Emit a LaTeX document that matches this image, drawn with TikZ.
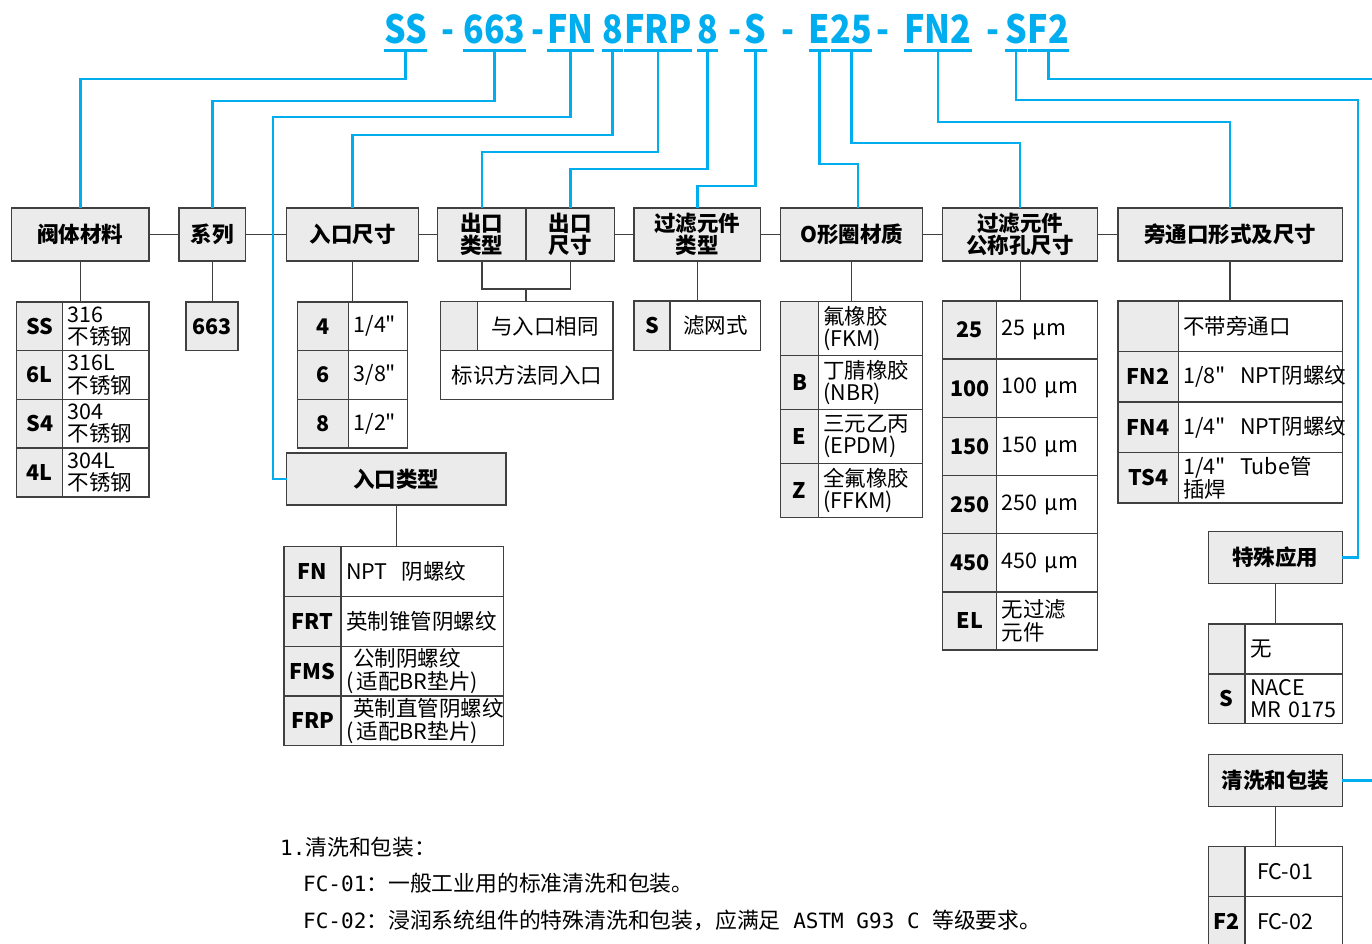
\documentclass[tikz,border=0pt]{standalone}
\usepackage{fontspec}
\setmainfont{Noto Sans CJK SC}[Ligatures=TeXOff]
\newfontfamily\codigo{Noto Sans CJK SC}[FakeStretch=0.87]
\newfontfamily\mono{DejaVu Sans Mono}[Ligatures=TeXOff]
\definecolor{azul}{RGB}{0,174,239}
\definecolor{borde}{RGB}{64,64,64}
\definecolor{gris}{RGB}{235,235,235}

%Tabla: nombre, columnas, arriba, alto fila, alineacion, filas
\newcommand{\tabla}[8]{%
  \pgfmathsetmacro{\anc}{#3-#2}%
  \pgfmathsetmacro{\anb}{#4-#3-10}%
  \foreach \ca/\de [count=\fila] in {#8}{%
    \node[celda,fill=gris,font=\bfseries\fontsize{21.5}{22}\selectfont,minimum width=\anc pt,minimum height=#6pt] (#1c\fila) at (#2,{#5+(\fila-1)*#6}) {\ca};
    \node[celda,fill=white,align=#7,text width=\anb pt,minimum height=#6pt] (#1d\fila) at (#3,{#5+(\fila-1)*#6}) {\de};
  }%
}
\newcommand{\lat}[1]{{\mono\fontsize{21}{22}\selectfont #1}}

\begin{document}
\begin{tikzpicture}[x=1pt,y=-1pt,
    cab/.style={draw=borde,fill=gris,line width=1.4pt,inner sep=0pt,outer sep=0pt,minimum height=53pt,align=center,font=\bfseries\fontsize{21.5}{22}\selectfont},
    celda/.style={draw=borde,line width=1.4pt,outer sep=0pt,anchor=north west,inner xsep=5pt,inner ysep=0pt,font=\fontsize{21.5}{22.5}\selectfont},
    cod/.style={text=azul,font=\codigo\bfseries\fontsize{39}{40}\selectfont,inner sep=0pt,text depth=7pt,anchor=base},
    nota/.style={anchor=west,inner sep=0pt,font=\fontsize{21.8}{24}\selectfont},
    raya/.style={draw=azul,line width=3pt},
    guia/.style={draw=azul,line width=2.4pt},
    linea/.style={draw=borde,line width=1.4pt}]

    \path[use as bounding box,fill=white] (0,0) rectangle (1372,943);

    %Codigo
    \foreach \nom/\px/\tx in {cSS/405.5/SS,c663/494.5/663,cFN/570.5/FN,c8a/612.5/8,cFRP/658/FRP,c8b/707.5/8,cS/755.5/S,cE/819.5/E,c25/851.5/25,cFN2/938/FN2,cS2/1016/S,cF2/1048.5/F2}{
        \node[cod] (\nom) at (\px,43) {\tx};
        \draw[raya] (\nom.south west)--(\nom.south east);
    }
    \foreach \px [count=\k] in {447.5,538,734.5,787.5,883,992.5}
        \node[cod] (g\k) at (\px,43) {-};

    %Cabeceras
    \foreach \nom/\px/\an/\tx in {mat/80.35/137.5/阀体材料,ser/212.3/66.7/系列,ent/352.5/131.6/入口尺寸,outA/481.85/88.3/{出口\\类型},outB/570.35/88.7/{出口\\尺寸},fil/697.35/126.7/{过滤元件\\类型},ori/851.7/142/O形圈材质,por/1020.2/155/{过滤元件\\公称孔尺寸},byp/1230.15/224.3/旁通口形式及尺寸}
        \node[cab,minimum width=\an pt] (\nom) at (\px,234.5) {\tx};
    \node[cab,minimum width=219.3pt,minimum height=52pt] (typ) at (396.35,479) {入口类型};
    \node[cab,minimum width=134pt,minimum height=51.6pt] (esp) at (1275.3,557.5) {特殊应用};
    \node[cab,minimum width=134pt,minimum height=52.4pt] (lim) at (1275.3,780.5) {清洗和包装};
    \foreach \a/\b in {mat/ser,ser/ent,ent/outA,outB/fil,fil/ori,ori/por,por/byp}
        \draw[linea] (\a)--(\b);

    %Tablas
    \tabla{mat}{16.7}{62.7}{149}{302}{48.7}{left}{SS/{316\\不锈钢},6L/{316L\\不锈钢},S4/{304\\不锈钢},4L/{304L\\不锈钢}}
    \node[celda,fill=gris,font=\bfseries\fontsize{21.5}{22}\selectfont,minimum width=52pt,minimum height=48.7pt] (serc1) at (186,302) {663};
    \tabla{ent}{297.7}{348.7}{407.3}{302}{48.7}{left}{4/{1/4"},6/{3/8"},8/{1/2"}}
    \tabla{typ}{284}{341}{503.3}{546.7}{49.75}{left}{FN/{NPT~~阴螺纹},FRT/{英制锥管阴螺纹},FMS/{~公制阴螺纹\\(\,适配BR垫片)},FRP/{~英制直管阴螺纹\\(\,适配BR垫片)}}
    \tabla{out}{440.7}{477.3}{613}{301.7}{49}{center}{{}/{与入口相同}}
    \node[celda,fill=white,align=center,text width=162.3pt,minimum height=48.6pt] (outd2) at (440.7,350.7) {标识方法同入口};
    \tabla{fil}{634}{670}{760.7}{301}{49.7}{center}{S/{滤网式}}
    \tabla{ori}{780.7}{818.3}{922.7}{301.7}{53.9}{left}{{}/{氟橡胶\\(FKM)},B/{丁腈橡胶\\(NBR)},E/{三元乙丙\\(EPDM)},Z/{全氟橡胶\\(FFKM)}}
    \tabla{por}{942.7}{996.7}{1097.7}{301}{58.17}{left}{25/{25~µm},100/{100~µm},150/{150~µm},250/{250~µm},450/{450~µm},EL/{无过滤\\元件}}
    \tabla{byp}{1118}{1178.3}{1342.3}{301}{50.5}{left}{{}/{不带旁通口},FN2/{1/8"~~NPT阴螺纹},FN4/{1/4"~~NPT阴螺纹},TS4/{1/4"~~Tube管\\插焊}}
    \tabla{esp}{1208.3}{1245}{1342.3}{624}{49.85}{left}{{}/{无},S/{NACE\\MR~0175}}
    \tabla{lim}{1208.3}{1245}{1342.3}{846.7}{50}{left}{{}/{~FC-01},F2/{~FC-02}}

    %Uniones
    \foreach \a/\b in {mat/matc1,ser/serc1,ent/entc1,typ/typc1,fil/filc1,ori/oric1,por/porc1,byp/bypc1,esp/espc1,lim/limc1}
        \draw[linea] (\a.south)--(\a.south |- \b.north);
    \draw[linea] (outA.south)--++(0,28)-|(outB.south);
    \draw[linea] ([yshift=-28pt]outA.south east)--(outA.south east |- outc1.north);

    %Guias
    \foreach \a/\b/\d in {cSS/mat/29,c663/ser/51,c8a/ent/85,cFRP/outA/102,c8b/outB/119,cS/fil/136,c25/por/93,cFN2/byp/72}
        \draw[guia] (\a.south)--++(0,\d)-|(\b.north);
    \draw[guia] (cE.south)--++(0,114)-|([xshift=6pt]ori.north);
    \draw[guia] (cFN.south)--++(0,67)-|([xshift=-14pt]typ.west)--(typ.west);
    \draw[guia] (cS2.south)--++(0,50)-|([xshift=15.5pt]esp.east)--(esp.east);
    \draw[guia] (cF2.south)--++(0,29)-|([xshift=40pt]lim.east)--(lim.east);

    %Notas
    \node[nota] (n1) at (280,847) {\lat{1.}清洗和包装：};
    \node[nota] (n2) at (303,883) {\lat{FC-01}：一般工业用的标准清洗和包装。};
    \node[nota] (n3) at (303,920) {\lat{FC-02}：浸润系统组件的特殊清洗和包装，应满足\lat{ ASTM G93 C }等级要求。};
\end{tikzpicture}
\end{document}
